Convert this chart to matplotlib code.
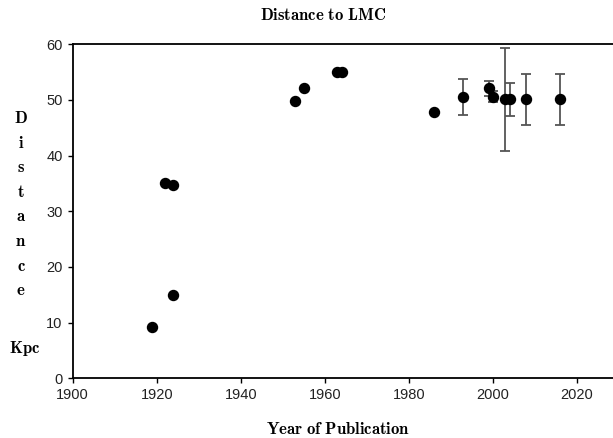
import matplotlib
matplotlib.use("Agg")
import matplotlib.pyplot as plt

plt.rcParams['mathtext.fontset'] = 'cm'

# Data
years = [1919, 1922, 1924, 1924, 1953, 1955, 1963, 1964, 1986,
         1993, 1999, 2000, 2003, 2004, 2008, 2016]
dist = [9.2, 35.0, 34.7, 14.9, 49.9, 52.1, 55.0, 55.1, 47.8,
        50.5, 52.1, 50.6, 50.1, 50.1, 50.1, 50.1]
err = [0, 0, 0, 0, 0, 0, 0, 0, 0,
       3.2, 1.3, 1.0, 9.3, 2.9, 4.65, 4.65]

title = "Distance to LMC"
xlabel = "Year of Publication"
ylabel_letters = "Distance"
ylabel_unit = "Kpc"
xticks = [1900, 1920, 1940, 1960, 1980, 2000, 2020]
yticks = [0, 10, 20, 30, 40, 50, 60]

W, H = 613, 438
fig = plt.figure(figsize=(W / 100, H / 100), dpi=100)
ax = fig.add_axes([72.7 / W, 1 - 378.3 / H, 1 - 72.7 / W, (378.3 - 44.3) / H])

ax.errorbar(years, dist, yerr=err, fmt='o', color='black', ecolor='#555555',
            elinewidth=1.3, capsize=3.5, capthick=1.3, markersize=7.2, zorder=3)

ax.set_xlim(1900, 1900 + (W - 72.7) / 4.2)
ax.set_ylim(0, 60)
ax.set_xticks(xticks)
ax.set_yticks(yticks)
for lab in ax.get_xticklabels() + ax.get_yticklabels():
    lab.set_fontfamily('Liberation Sans')
    lab.set_fontsize(10.5)
    lab.set_color('#222222')
ax.tick_params(axis='both', direction='out', length=3.3, width=1.0, pad=4)
ax.spines['right'].set_visible(False)
for s in ['left', 'bottom', 'top']:
    ax.spines[s].set_linewidth(1.3)

fig.text(323 / W, 1 - 15 / H, r'$\mathbf{Distance\ to\ LMC}$', ha='center', va='center', fontsize=12)
fig.text(338 / W, 1 - 429 / H, r'$\mathbf{Year\ of\ Publication}$', ha='center', va='center', fontsize=12)

y0 = 118
step = 24.6
for i, ch in enumerate(ylabel_letters):
    fig.text(21 / W, 1 - (y0 + i * step) / H, r'$\mathbf{%s}$' % ch, ha='center', va='center', fontsize=12)
fig.text(25 / W, 1 - 348 / H, r'$\mathbf{%s}$' % ylabel_unit, ha='center', va='center', fontsize=12)

fig.savefig("out.png", dpi=100)
